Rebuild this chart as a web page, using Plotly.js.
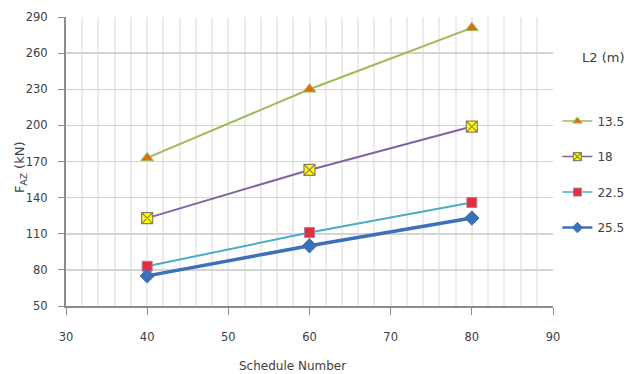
<!DOCTYPE html>
<html>
<head>
<meta charset="utf-8">
<script src="https://cdn.plot.ly/plotly-3.0.1.min.js"></script>
<style>
  html, body { margin: 0; padding: 0; background: #ffffff; }
  #chart { width: 626px; height: 374px; }
</style>
</head>
<body>
<div id="chart"></div>
<script>
// Schedule numbers on the x axis
const scheduleNumbers = [40, 60, 80];

// F_AZ (kN) for each L2 length
const seriesNames = ['13.5', '18', '22.5', '25.5'];
const fAz_13_5 = [173, 230, 281];
const fAz_18   = [123, 163, 199];
const fAz_22_5 = [83, 111, 136];
const fAz_25_5 = [75, 100, 123];

const yTicks = [50, 80, 110, 140, 170, 200, 230, 260, 290];
const xTicks = [30, 40, 50, 60, 70, 80, 90];

const FONT = 'DejaVu Sans, Liberation Sans, sans-serif';
const TEXT = '#404040';

// Line and marker style for each series
const styles = [
  { line: { color: '#9BBB59', width: 2 },
    marker: { symbol: 'triangle-up', size: 11, color: '#E46C0A', line: { color: '#9BBB59', width: 1 } } },
  { line: { color: '#8064A2', width: 2 },
    marker: { symbol: 'square-x', size: 11, color: '#FFFF00', line: { color: '#8C8060', width: 1.2 } } },
  { line: { color: '#4BACC6', width: 2 },
    marker: { symbol: 'square', size: 10, color: '#E0303F', line: { color: '#B07F99', width: 1 } } },
  { line: { color: '#3C70B8', width: 3.5 },
    marker: { symbol: 'diamond', size: 11, color: '#3C70B8', line: { color: '#3C70B8', width: 1 } } }
];
const seriesValues = [fAz_13_5, fAz_18, fAz_22_5, fAz_25_5];

// Plotted series
const dataTraces = seriesValues.map((vals, i) => ({
  type: 'scatter', mode: 'lines+markers', name: seriesNames[i],
  x: scheduleNumbers, y: vals, showlegend: false,
  line: styles[i].line, marker: styles[i].marker
}));

// Legend entries use smaller symbols and thinner lines
const legendTraces = seriesNames.map((name, i) => ({
  type: 'scatter', mode: 'lines+markers', name: name,
  x: [null], y: [null], legendgroup: 'g' + i, showlegend: true,
  line: { color: styles[i].line.color, width: i === 3 ? 2.5 : 1.5 },
  marker: Object.assign({}, styles[i].marker, { size: 8 })
}));

const layout = {
  width: 626, height: 374,
  margin: { l: 66, r: 73, t: 17, b: 68, autoexpand: false },
  paper_bgcolor: '#ffffff', plot_bgcolor: '#ffffff',
  font: { family: FONT, size: 12, color: TEXT },
  showlegend: true,
  legend: {
    x: 1.009, y: 0.69, xanchor: 'left', yanchor: 'top',
    traceorder: 'grouped', tracegroupgap: 16.5,
    itemwidth: 30,
    font: { family: FONT, size: 12, color: TEXT },
    bgcolor: 'rgba(0,0,0,0)'
  },
  xaxis: {
    range: [30, 90], tickvals: xTicks, ticktext: xTicks.map(String),
    ticks: 'outside', ticklen: 7, tickcolor: '#8C8C8C', tickwidth: 1,
    ticklabelstandoff: 12,
    showline: true, linecolor: '#8C8C8C', linewidth: 2,
    showgrid: true, gridcolor: '#EBEBEB', gridwidth: 2,
    minor: { dtick: 2, showgrid: true, gridcolor: '#EBEBEB', gridwidth: 2, ticks: '' },
    zeroline: false,
    tickfont: { family: FONT, size: 11.5, color: TEXT }
  },
  yaxis: {
    range: [50, 290], tickvals: yTicks, ticktext: yTicks.map(String),
    ticks: 'outside', ticklen: 6, tickcolor: '#8C8C8C', tickwidth: 1,
    ticklabelstandoff: 8,
    showline: true, linecolor: '#8C8C8C', linewidth: 2,
    showgrid: true, gridcolor: '#D4D4D4', gridwidth: 1.5,
    zeroline: false,
    tickfont: { family: FONT, size: 11.5, color: TEXT }
  },
  annotations: [
    {
      text: 'Schedule Number', xref: 'paper', yref: 'paper',
      x: (292 - 66) / 487, y: -(366 - 306) / 289, xanchor: 'center', yanchor: 'middle',
      showarrow: false, font: { family: FONT, size: 12, color: TEXT }
    },
    {
      text: 'F<sub>AZ</sub> (kN)', xref: 'paper', yref: 'paper', textangle: -90,
      x: (20 - 66) / 487, y: 1 - (168 - 17) / 289, xanchor: 'center', yanchor: 'middle',
      showarrow: false, font: { family: FONT, size: 13, color: TEXT }
    },
    {
      text: 'L2 (m)', xref: 'paper', yref: 'paper',
      x: (603 - 66) / 487, y: 1 - (58 - 17) / 289, xanchor: 'center', yanchor: 'middle',
      showarrow: false, font: { family: FONT, size: 13, color: TEXT }
    }
  ]
};

Plotly.newPlot('chart', dataTraces.concat(legendTraces), layout, { displayModeBar: false, staticPlot: true });
</script>
</body>
</html>
